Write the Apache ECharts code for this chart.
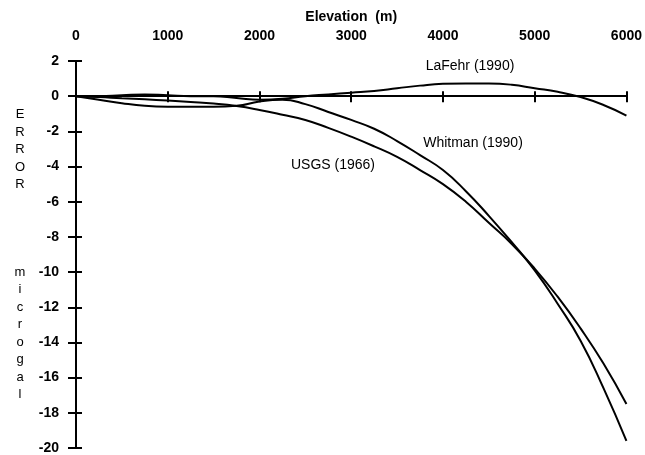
<!DOCTYPE html>
<html>
<head>
<meta charset="utf-8">
<script src="https://cdn.jsdelivr.net/npm/echarts@6/dist/echarts.min.js"></script>
<style>
  html, body { margin: 0; padding: 0; background: #fff; }
  #chart { width: 645px; height: 455px; }
</style>
</head>
<body>
<div id="chart"></div>
<script>
// elevation (m), sampled every 250 m
var elevation = [0, 250, 500, 750, 1000, 1250, 1500, 1750, 2000, 2250, 2500, 2750, 3000,
  3250, 3500, 3750, 4000, 4250, 4500, 4750, 5000, 5250, 5500, 5750, 6000];

// error (microgal)
var lafehr = [0, 0, 0.05, 0.1, 0.05, 0, 0, -0.1, -0.2, -0.15, 0, 0.1, 0.2,
  0.3, 0.45, 0.6, 0.7, 0.72, 0.72, 0.65, 0.45, 0.25, -0.05, -0.5, -1.1];
var whitman = [0, -0.2, -0.4, -0.55, -0.6, -0.6, -0.6, -0.55, -0.3, -0.2, -0.45, -0.9, -1.35,
  -1.85, -2.55, -3.35, -4.2, -5.4, -6.8, -8.3, -9.9, -11.8, -13.9, -16.6, -19.6];
var usgs = [0, -0.05, -0.12, -0.18, -0.25, -0.33, -0.42, -0.56, -0.78, -1.05, -1.35, -1.8, -2.3,
  -2.85, -3.45, -4.2, -5.0, -6.0, -7.2, -8.4, -9.8, -11.4, -13.2, -15.2, -17.5];

var xTicks = [0, 1000, 2000, 3000, 4000, 5000, 6000];
var yTicks = [2, 0, -2, -4, -6, -8, -10, -12, -14, -16, -18, -20];

function pairs(ys) {
  return elevation.map(function (x, i) { return [x, ys[i]]; });
}

var font = 'Liberation Sans, Arial, sans-serif';
var chart = echarts.init(document.getElementById('chart'));

var lineSeries = function (name, ys) {
  return {
    name: name,
    type: 'line',
    smooth: true,
    symbol: 'none',
    data: pairs(ys),
    lineStyle: { color: '#000', width: 2 }
  };
};

var blackLine = { color: '#000', width: 2 };

var series = [
  lineSeries('LaFehr (1990)', lafehr),
  lineSeries('Whitman (1990)', whitman),
  lineSeries('USGS (1966)', usgs)
];
// empty series so the tick-only axes get rendered
series.push({ type: 'line', xAxisIndex: 1, yAxisIndex: 1, data: [], symbol: 'none' });
series.push({ type: 'line', xAxisIndex: 2, yAxisIndex: 0, data: [], symbol: 'none' });

chart.setOption({
  animation: false,
  backgroundColor: '#fff',
  grid: { left: 76, right: 16, top: 61, bottom: 3 },
  xAxis: [
    {
      type: 'value', position: 'top',
      min: xTicks[0], max: xTicks[xTicks.length - 1], interval: 1000,
      name: 'Elevation  (m)', nameLocation: 'middle', nameGap: 36,
      nameTextStyle: { color: '#000', fontFamily: font, fontSize: 14, fontWeight: 'bold' },
      axisLine: { show: false, onZero: false },
      axisTick: { show: false },
      splitLine: { show: false },
      axisLabel: {
        color: '#000', fontFamily: font, fontSize: 14, fontWeight: 'bold', margin: 18,
        formatter: function (v) { return String(v); }
      }
    },
    {
      type: 'value', position: 'bottom', min: 0, max: 6000, interval: 1000,
      axisLine: { show: true, onZero: true, lineStyle: blackLine },
      axisTick: { show: true, inside: false, length: 6, lineStyle: blackLine },
      axisLabel: { show: false },
      splitLine: { show: false }
    },
    {
      type: 'value', position: 'bottom', min: 0, max: 6000, interval: 1000,
      axisLine: { show: true, onZero: true, lineStyle: blackLine },
      axisTick: { show: true, inside: true, length: 5, lineStyle: blackLine },
      axisLabel: { show: false },
      splitLine: { show: false }
    }
  ],
  yAxis: [
    {
      type: 'value', min: yTicks[yTicks.length - 1], max: yTicks[0], interval: 2,
      name: 'E\nR\nR\nO\nR\n\n\n\n\nm\ni\nc\nr\no\ng\na\nl',
      nameLocation: 'middle', nameRotate: 0, nameGap: 56,
      nameTextStyle: { color: '#000', fontFamily: font, fontSize: 13, lineHeight: 17.5, align: 'center', verticalAlign: 'middle' },
      axisLine: { lineStyle: blackLine },
      axisTick: { length: 8, lineStyle: blackLine },
      axisLabel: { color: '#000', fontFamily: font, fontSize: 14, fontWeight: 'bold', margin: 17 },
      splitLine: { show: false }
    },
    {
      type: 'value', min: -20, max: 2, interval: 2, position: 'left', offset: 0,
      axisLine: { show: true, onZero: false, lineStyle: blackLine },
      axisTick: { show: true, inside: true, length: 6, lineStyle: blackLine },
      axisLabel: { show: false },
      splitLine: { show: false }
    }
  ],
  graphic: [
    { type: 'text', x: 470, y: 66, style: { text: 'LaFehr (1990)', fill: '#000', font: '14px ' + font, textAlign: 'center', textVerticalAlign: 'middle' } },
    { type: 'text', x: 473, y: 143, style: { text: 'Whitman (1990)', fill: '#000', font: '14px ' + font, textAlign: 'center', textVerticalAlign: 'middle' } },
    { type: 'text', x: 333, y: 165, style: { text: 'USGS (1966)', fill: '#000', font: '14px ' + font, textAlign: 'center', textVerticalAlign: 'middle' } }
  ],
  series: series
});
</script>
</body>
</html>
